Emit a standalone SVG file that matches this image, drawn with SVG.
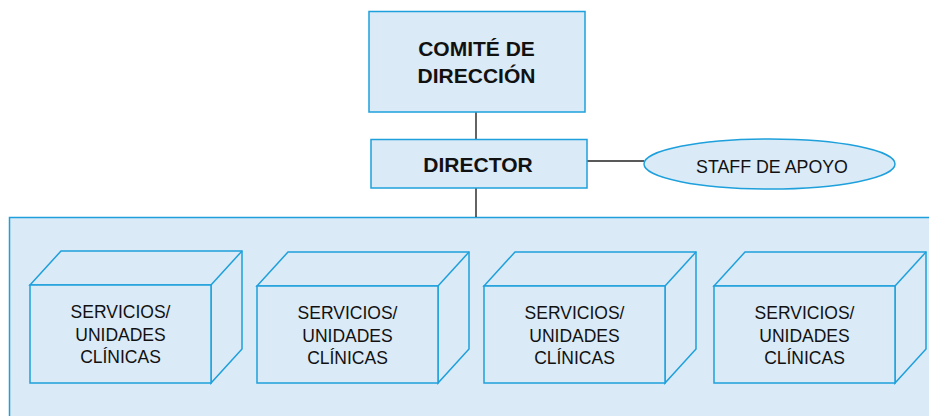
<svg xmlns="http://www.w3.org/2000/svg" width="929" height="416" viewBox="0 0 929 416">
<style>
.box{fill:#daeaf6;stroke:#1ea0dc;stroke-width:1.5}
.cube{fill:#daeaf6;stroke:#1ea0dc;stroke-width:1.5;stroke-linejoin:miter}
.conn{stroke:#222;stroke-width:1.4;fill:none}
.bold{font-family:"Liberation Sans",Arial,sans-serif;font-weight:bold;font-size:21px;fill:#111;text-anchor:middle}
.reg{font-family:"Liberation Sans",Arial,sans-serif;font-size:17.5px;fill:#111;text-anchor:middle}
.staff{font-size:17.8px}
</style>
<rect width="929" height="416" fill="#fff"/>
<g id="unidades-area">
<rect class="box" x="9.5" y="217.5" width="930" height="210"/>
</g>
<g id="connectors">
<line class="conn" x1="476" y1="112" x2="476" y2="139"/>
<line class="conn" x1="476" y1="188" x2="476" y2="217"/>
<line class="conn" x1="587" y1="161" x2="644" y2="161"/>
</g>
<g id="comite">
<rect class="box" x="369" y="11.5" width="216" height="100.5"/>
<text class="bold" x="476.5" y="56">COMITÉ DE</text>
<text class="bold" x="476.5" y="83">DIRECCIÓN</text>
</g>
<g id="director">
<rect class="box" x="371" y="139.5" width="216" height="48.5"/>
<text class="bold" x="478" y="172">DIRECTOR</text>
</g>
<g id="staff">
<ellipse class="box" cx="769.5" cy="164" rx="125.5" ry="25"/>
<text class="reg staff" x="772" y="173">STAFF DE APOYO</text>
</g>
<g id="servicio1">
<path class="cube" d="M30 285 L61 251 L242 251 L242 349 L211 383 L211 285 Z"/>
<path class="cube" d="M211 285 L242 251" fill="none"/>
<rect class="cube" x="30" y="285" width="181" height="98"/>
<text class="reg" x="120.5" y="318">SERVICIOS/</text>
<text class="reg" x="120.5" y="341">UNIDADES</text>
<text class="reg" x="120.5" y="363">CLÍNICAS</text>
</g>
<g id="servicio2">
<path class="cube" d="M257 286 L288 252 L469 252 L469 349 L438 383 L438 286 Z"/>
<path class="cube" d="M438 286 L469 252" fill="none"/>
<rect class="cube" x="257" y="286" width="181" height="97"/>
<text class="reg" x="347.5" y="319">SERVICIOS/</text>
<text class="reg" x="347.5" y="342">UNIDADES</text>
<text class="reg" x="347.5" y="364">CLÍNICAS</text>
</g>
<g id="servicio3">
<path class="cube" d="M484 286 L515 252 L696 252 L696 349 L665 383 L665 286 Z"/>
<path class="cube" d="M665 286 L696 252" fill="none"/>
<rect class="cube" x="484" y="286" width="181" height="97"/>
<text class="reg" x="574.5" y="319">SERVICIOS/</text>
<text class="reg" x="574.5" y="342">UNIDADES</text>
<text class="reg" x="574.5" y="364">CLÍNICAS</text>
</g>
<g id="servicio4">
<path class="cube" d="M714 286 L745 252 L926 252 L926 349 L895 383 L895 286 Z"/>
<path class="cube" d="M895 286 L926 252" fill="none"/>
<rect class="cube" x="714" y="286" width="181" height="97"/>
<text class="reg" x="804.5" y="319">SERVICIOS/</text>
<text class="reg" x="804.5" y="342">UNIDADES</text>
<text class="reg" x="804.5" y="364">CLÍNICAS</text>
</g>
</svg>
